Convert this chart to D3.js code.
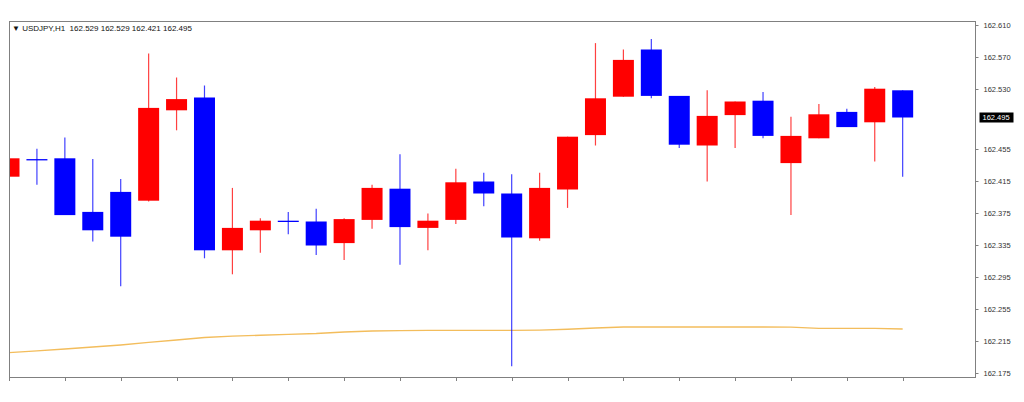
<!DOCTYPE html>
<html lang="en">
<head>
    <meta charset="UTF-8">
    <title>USDJPY H1</title>
    <script src="https://d3js.org/d3.v7.min.js"></script>
    <style>
        body { margin: 0; background: #fff; }
        .chart text { font-family: "Liberation Sans", Arial, sans-serif; }
        .frame { fill: none; stroke: #808080; stroke-width: 1; shape-rendering: crispEdges; }
    </style>
</head>
<body>
    <svg id="chart" class="chart" width="1024" height="402"></svg>

    <script>
        // candle data (H1 bars, oldest first)
        const opens  = [162.421, 162.443, 162.444, 162.377, 162.402, 162.391, 162.504, 162.520, 162.329, 162.354,
                        162.366, 162.365, 162.338, 162.367, 162.406, 162.357, 162.367, 162.415, 162.400, 162.344,
                        162.405, 162.473, 162.521, 162.580, 162.522, 162.460, 162.498, 162.516, 162.438, 162.469,
                        162.502, 162.489, 162.529];
        const highs  = [162.473, 162.456, 162.470, 162.443, 162.418, 162.575, 162.545, 162.535, 162.407, 162.369,
                        162.377, 162.381, 162.369, 162.411, 162.449, 162.375, 162.431, 162.426, 162.424, 162.426,
                        162.471, 162.588, 162.580, 162.593, 162.522, 162.529, 162.515, 162.527, 162.496, 162.512,
                        162.506, 162.533, 162.529];
        const lows   = [162.396, 162.411, 162.373, 162.340, 162.284, 162.390, 162.479, 162.319, 162.299, 162.326,
                        162.349, 162.323, 162.317, 162.356, 162.311, 162.329, 162.362, 162.384, 162.184, 162.341,
                        162.382, 162.460, 162.521, 162.519, 162.457, 162.415, 162.457, 162.469, 162.373, 162.469,
                        162.483, 162.440, 162.421];
        const closes = [162.444, 162.443, 162.373, 162.354, 162.346, 162.507, 162.518, 162.329, 162.357, 162.366,
                        162.366, 162.335, 162.368, 162.407, 162.358, 162.366, 162.414, 162.400, 162.345, 162.407,
                        162.471, 162.519, 162.567, 162.522, 162.461, 162.497, 162.515, 162.472, 162.472, 162.499,
                        162.483, 162.531, 162.495];
        // moving average
        const ma = [162.2010, 162.2034, 162.2056, 162.2081, 162.2106, 162.2138, 162.2169, 162.2200, 162.2216, 162.2228,
                    162.2239, 162.2250, 162.2269, 162.2281, 162.2285, 162.2289, 162.2290, 162.2290, 162.2290, 162.2293,
                    162.2303, 162.2319, 162.2331, 162.2331, 162.2331, 162.2331, 162.2331, 162.2331, 162.2329, 162.2315,
                    162.2315, 162.2315, 162.2306];

        // price scale labels (the one under the current price tag is hidden)
        const yTickLabels = ["162.610", "162.570", "162.530", "162.455", "162.415", "162.375",
                             "162.335", "162.295", "162.255", "162.215", "162.175"];
        const symbol = "USDJPY,H1";
        const lastPrice = "162.495";

        const svg = d3.select("#chart");
        const plot = { left: 9, right: 975, top: 21, bottom: 377 };

        const x = d3.scaleLinear().domain([0, 34.59]).range([plot.left, plot.right]);
        const y = d3.scaleLinear().domain([162.175, 162.610]).range([373.5, 25.5]);
        const bodyW = 21;

        const candles = opens.map((o, i) => ({ i, o, h: highs[i], l: lows[i], c: closes[i] }));
        const color = d => d.c > d.o ? "#ff0000" : "#0000ff";

        svg.append("clipPath").attr("id", "clip")
            .append("rect")
            .attr("x", plot.left).attr("y", plot.top)
            .attr("width", plot.right - plot.left).attr("height", plot.bottom - plot.top);

        const g = svg.append("g").attr("clip-path", "url(#clip)");

        // moving average line
        g.append("path")
            .datum(ma)
            .attr("fill", "none")
            .attr("stroke", "#f3bd5c")
            .attr("stroke-width", 1.3)
            .attr("d", d3.line().x((d, i) => x(i)).y(d => y(d)));

        // wicks
        g.selectAll(".wick").data(candles).enter().append("line")
            .attr("class", "wick")
            .attr("x1", d => x(d.i)).attr("x2", d => x(d.i))
            .attr("y1", d => y(d.h)).attr("y2", d => y(d.l))
            .attr("stroke", color)
            .attr("stroke-opacity", 0.75)
            .attr("stroke-width", 1.2);

        // bodies (doji drawn as a flat line)
        g.selectAll(".body").data(candles).enter().append("rect")
            .attr("class", "body")
            .attr("x", d => x(d.i) - bodyW / 2)
            .attr("y", d => y(Math.max(d.o, d.c)))
            .attr("width", bodyW)
            .attr("height", d => Math.max(1.3, Math.abs(y(d.o) - y(d.c))))
            .attr("fill", color);

        // frame
        svg.append("rect").attr("class", "frame")
            .attr("x", plot.left + 0.5).attr("y", plot.top + 0.5)
            .attr("width", plot.right - plot.left).attr("height", plot.bottom - plot.top);

        // right price axis
        const yAxis = svg.append("g").attr("transform", `translate(${plot.right + 0.5},0)`);
        yAxis.selectAll("line").data(yTickLabels).enter().append("line")
            .attr("x1", 0).attr("x2", 3)
            .attr("y1", d => y(+d)).attr("y2", d => y(+d))
            .attr("stroke", "#808080");
        yAxis.selectAll("text").data(yTickLabels).enter().append("text")
            .attr("x", 8)
            .attr("y", d => y(+d))
            .attr("dy", "0.35em")
            .attr("font-size", "7.5px")
            .attr("fill", "#333")
            .text(d => d);

        // current price tag
        const py = y(+lastPrice);
        yAxis.append("rect")
            .attr("x", 4).attr("y", py - 5)
            .attr("width", 34).attr("height", 10)
            .attr("fill", "#000");
        yAxis.append("text")
            .attr("x", 7).attr("y", py)
            .attr("dy", "0.35em")
            .attr("font-size", "7.5px")
            .attr("fill", "#fff")
            .text(lastPrice);

        // bottom time ticks every two bars
        svg.append("g").selectAll("line")
            .data(d3.range(0, candles.length, 2)).enter().append("line")
            .attr("x1", d => Math.round(x(d)) + 0.5).attr("x2", d => Math.round(x(d)) + 0.5)
            .attr("y1", plot.bottom).attr("y2", plot.bottom + 4)
            .attr("stroke", "#808080");

        // header line
        const last = candles[candles.length - 1];
        svg.append("text")
            .attr("x", 12).attr("y", 31)
            .attr("font-size", "8px")
            .attr("fill", "#111")
            .style("white-space", "pre")
            .text("\u25BC " + symbol + "  " + [last.o, last.h, last.l, last.c].map(v => v.toFixed(3)).join(" "));
    </script>
</body>
</html>
